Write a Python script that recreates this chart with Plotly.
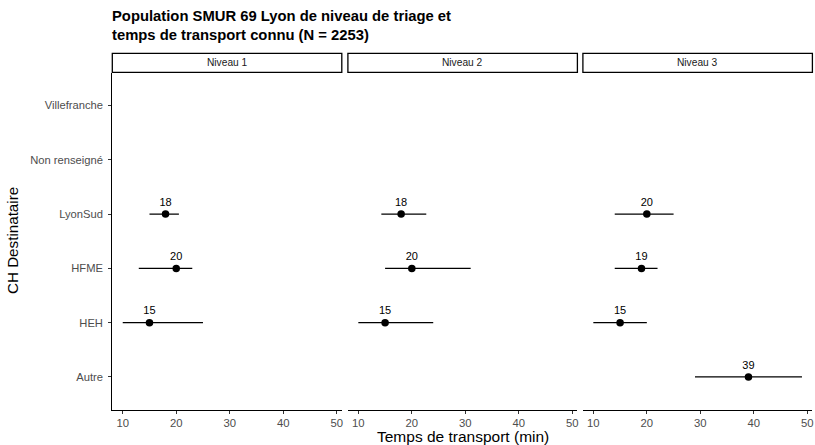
import plotly.graph_objects as go

# ---- data ----
categories = ["Autre", "HEH", "HFME", "LyonSud", "Non renseigné", "Villefranche"]
panels = ["Niveau 1", "Niveau 2", "Niveau 3"]

n1_hosp = ["HEH", "HFME", "LyonSud"]
n1_med = [15, 20, 18]
n1_low = [10, 13, 15]
n1_high = [25, 23, 20.5]

n2_hosp = ["HEH", "HFME", "LyonSud"]
n2_med = [15, 20, 18]
n2_low = [10, 15, 14.3]
n2_high = [24, 31, 22.7]

n3_hosp = ["Autre", "HEH", "HFME", "LyonSud"]
n3_med = [39, 15, 19, 20]
n3_low = [29, 10, 14, 14]
n3_high = [49, 20, 22, 25]

x_ticks = [10, 20, 30, 40, 50]

W, H = 815, 445
FONT = "Liberation Sans, Arial, sans-serif"

def px_x(p):
    return p / W

def px_y(p):
    return (H - p) / H

x_domains = [(112.3, 341.8), (347.9, 577.4), (582.9, 812.4)]
y_top, y_bot = 73, 409.5
strip_top, strip_bot = 53.3, 72.3

data_sets = [
    (n1_hosp, n1_med, n1_low, n1_high),
    (n2_hosp, n2_med, n2_low, n2_high),
    (n3_hosp, n3_med, n3_low, n3_high),
]

fig = go.Figure()
layout = dict(
    width=W, height=H,
    margin=dict(l=0, r=0, t=0, b=0),
    paper_bgcolor="white", plot_bgcolor="white",
    showlegend=False,
    font=dict(family=FONT, color="#4D4D4D", size=11),
)

shapes = []
annotations = []
for i, ((x0, x1), (hosp, med, low, high), name) in enumerate(zip(x_domains, data_sets, panels)):
    idx = "" if i == 0 else str(i + 1)
    xa = "x" + idx
    ya = "y" + idx
    fig.add_trace(go.Scatter(
        x=med, y=hosp, xaxis=xa, yaxis=ya,
        mode="markers+text",
        marker=dict(color="black", size=7.5),
        text=[str(round(v)) for v in med],
        textposition="top center",
        textfont=dict(family=FONT, size=11, color="black"),
        error_x=dict(type="data", symmetric=False,
                     array=[h - m for h, m in zip(high, med)],
                     arrayminus=[m - l for m, l in zip(med, low)],
                     width=0, thickness=1.3, color="black"),
        cliponaxis=False,
    ))
    layout["xaxis" + idx] = dict(
        domain=[px_x(x0), px_x(x1)], anchor=ya,
        range=[8.05, 50.95], tickvals=x_ticks,
        showline=True, linecolor="black", linewidth=1.2,
        ticks="outside", ticklen=3, tickcolor="#333333", tickwidth=1,
        showgrid=False, zeroline=False,
        tickfont=dict(family=FONT, size=11.3, color="#4D4D4D"),
    )
    layout["yaxis" + idx] = dict(
        domain=[px_y(y_bot), px_y(y_top)], anchor=xa,
        type="category", categoryorder="array", categoryarray=categories,
        range=[-0.6, 5.6],
        showgrid=False, zeroline=False,
        showline=(i == 0), linecolor="black", linewidth=1.2,
        ticks="outside" if i == 0 else "", ticklen=3, tickcolor="#333333",
        showticklabels=(i == 0), ticklabelstandoff=3,
        tickfont=dict(family=FONT, size=11.2, color="#4D4D4D"),
    )
    # strip
    shapes.append(dict(type="rect", xref="paper", yref="paper",
                       x0=px_x(x0), x1=px_x(x1), y0=px_y(strip_bot), y1=px_y(strip_top),
                       line=dict(color="black", width=1.3), fillcolor="white"))
    annotations.append(dict(text=name, xref="paper", yref="paper",
                            x=px_x((x0 + x1) / 2), y=px_y((strip_top + strip_bot) / 2),
                            showarrow=False, xanchor="center", yanchor="middle",
                            font=dict(family=FONT, size=10.2, color="#1A1A1A")))

annotations.append(dict(text="<b>Population SMUR 69 Lyon de niveau de triage et<br>temps de transport connu (N = 2253)</b>",
                        xref="paper", yref="paper", x=px_x(109.5), y=px_y(6),
                        xanchor="left", yanchor="top", align="left", showarrow=False,
                        font=dict(family=FONT, size=14.8, color="black")))
annotations.append(dict(text="Temps de transport (min)", xref="paper", yref="paper",
                        x=px_x(462.5), y=px_y(436.5), xanchor="center", yanchor="middle",
                        showarrow=False, font=dict(family=FONT, size=15.5, color="black")))
annotations.append(dict(text="CH Destinataire", xref="paper", yref="paper",
                        x=px_x(12), y=px_y(241), xanchor="center", yanchor="middle",
                        textangle=-90, showarrow=False,
                        font=dict(family=FONT, size=15.2, color="black")))

layout["shapes"] = shapes
layout["annotations"] = annotations
fig.update_layout(**layout)
fig.write_html("out.html",
               config={"displayModeBar": False},
               post_script="document.body.style.margin='0';document.body.style.overflow='hidden';")
